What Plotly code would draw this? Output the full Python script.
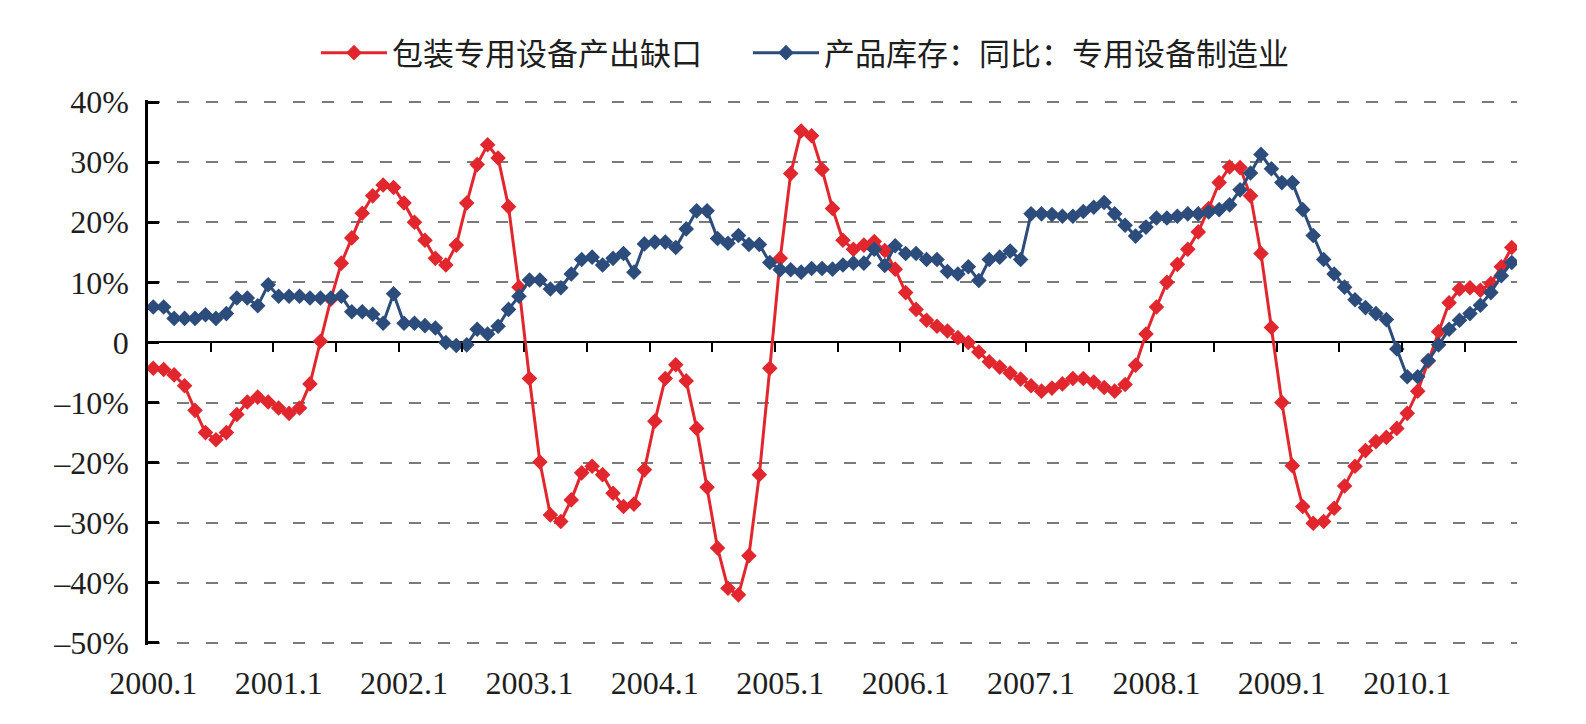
import plotly.graph_objects as go

# ---- data (monthly, 2000.1 - 2010.11) ----
months = [f"{2000 + i // 12}.{i % 12 + 1}" for i in range(131)]

gap_packaging = [
    -4.3, -4.5, -5.4, -7.2, -11.3, -15.0, -16.2, -15.0, -12.0, -9.9, -9.1, -9.9,
    -10.9, -11.8, -10.9, -6.9, 0.2, 7.2, 13.2, 17.4, 21.5, 24.4, 26.2, 25.8,
    23.2, 20.0, 17.0, 14.0, 12.9, 16.2, 23.2, 29.6, 32.9, 30.7, 22.6, 9.2,
    -6.0, -19.9, -28.7, -29.8, -26.2, -21.7, -20.6, -22.0, -25.1, -27.3, -26.9, -21.2,
    -13.1, -6.0, -3.7, -6.4, -14.3, -24.1, -34.2, -40.9, -42.0, -35.5, -22.0, -4.3,
    14.0, 28.1, 35.2, 34.4, 28.8, 22.3, 17.0, 15.5, 16.2, 16.8, 15.3, 12.2,
    8.3, 5.5, 3.7, 2.7, 1.9, 0.8, 0.0, -1.6, -3.2, -4.1, -5.1, -6.1,
    -7.2, -8.1, -7.6, -6.9, -6.0, -6.0, -6.6, -7.5, -8.1, -7.0, -3.8, 1.4,
    5.9, 10.0, 13.0, 15.5, 18.4, 22.3, 26.6, 29.2, 29.1, 24.4, 14.8, 2.5,
    -10.0, -20.5, -27.3, -30.1, -29.8, -27.6, -23.9, -20.6, -18.0, -16.5, -15.8, -14.3,
    -11.8, -8.1, -3.1, 1.8, 6.6, 8.9, 9.1, 8.7, 9.8, 12.6, 15.8,
]

inventory_yoy = [
    5.9, 5.9, 4.0, 4.0, 4.0, 4.6, 4.0, 4.8, 7.4, 7.4, 6.1, 9.6,
    7.7, 7.7, 7.7, 7.4, 7.4, 7.4, 7.7, 5.1, 5.1, 4.7, 3.2, 8.1,
    3.2, 3.2, 2.8, 2.4, 0.0, -0.5, -0.4, 2.2, 1.4, 2.7, 5.5, 7.7,
    10.4, 10.4, 8.9, 9.1, 11.4, 13.8, 14.2, 12.9, 14.0, 14.8, 11.7, 16.4,
    16.7, 16.7, 15.8, 18.9, 21.9, 21.9, 17.3, 16.5, 17.8, 16.3, 16.3, 13.3,
    12.1, 12.1, 11.7, 12.3, 12.3, 12.2, 12.9, 13.2, 13.2, 15.5, 12.8, 16.1,
    14.8, 14.8, 13.8, 13.8, 11.8, 11.4, 12.6, 10.3, 13.8, 14.2, 15.2, 13.8,
    21.4, 21.4, 21.3, 21.0, 21.0, 21.8, 22.5, 23.3, 21.4, 19.5, 17.7, 19.2,
    20.7, 20.7, 21.0, 21.4, 21.4, 21.7, 22.1, 22.9, 25.4, 28.2, 31.3, 28.9,
    26.6, 26.6, 22.1, 17.8, 13.8, 11.4, 9.2, 7.1, 5.8, 4.8, 3.8, -1.1,
    -5.7, -5.7, -3.0, -0.4, 2.2, 3.7, 4.8, 6.2, 8.3, 11.1, 13.3,
]

y_ticks = [40, 30, 20, 10, 0, -10, -20, -30, -40, -50]
y_ticktext = ["40%", "30%", "20%", "10%", "0", "–10%", "–20%", "–30%", "–40%", "–50%"]
x_label_idx = list(range(0, 131, 12))
x_ticktext = [months[i] for i in x_label_idx]
x_tick_marks = [5.5 + 6 * k for k in range(21)]

name_red = "包装专用设备产出缺口"
name_blue = "产品库存：同比：专用设备制造业"

RED = "#E1262E"
BLUE = "#2C4C7C"
SERIF = "Liberation Serif, Times New Roman, serif"
LEGEND_FONT = dict(family="Noto Sans CJK SC", size=31, color="#1e1e1e")

xs = list(range(len(months)))
Y_LO, Y_HI = -50.35, 40.35

fig = go.Figure()
fig.add_trace(go.Scatter(
    x=xs, y=gap_packaging, name=name_red, mode="lines+markers",
    line=dict(color=RED, width=3),
    marker=dict(symbol="diamond", size=12, color=RED),
    legend="legend",
    customdata=months, hovertemplate="%{customdata}: %{y}%<extra></extra>",
))
fig.add_trace(go.Scatter(
    x=xs, y=inventory_yoy, name=name_blue, mode="lines+markers",
    line=dict(color=BLUE, width=3),
    marker=dict(symbol="diamond", size=12, color=BLUE),
    legend="legend2",
    customdata=months, hovertemplate="%{customdata}: %{y}%<extra></extra>",
))
# empty trace to host the tick-mark axis drawn along the zero line
fig.add_trace(go.Scatter(x=[None], y=[None], xaxis="x2", showlegend=False,
                         hoverinfo="skip"))

fig.update_layout(
    width=1586, height=724,
    margin=dict(l=148, r=69, t=100, b=79, autoexpand=False),
    paper_bgcolor="white", plot_bgcolor="white",
    showlegend=True,
    legend=dict(
        orientation="h", xref="container", yref="container",
        x=316 / 1586, y=1 - 53 / 724, xanchor="left", yanchor="middle",
        itemwidth=66, font=LEGEND_FONT, bgcolor="rgba(0,0,0,0)",
    ),
    legend2=dict(
        orientation="h", xref="container", yref="container",
        x=748 / 1586, y=1 - 53 / 724, xanchor="left", yanchor="middle",
        itemwidth=66, font=LEGEND_FONT, bgcolor="rgba(0,0,0,0)",
    ),
    xaxis=dict(
        range=[-0.5, 130.5], tickmode="array", tickvals=x_label_idx,
        ticktext=x_ticktext, showgrid=False, zeroline=False, showline=False,
        ticks="", ticklabelstandoff=16,
        tickfont=dict(family=SERIF, size=32, color="#1e1e1e"),
    ),
    xaxis2=dict(
        overlaying="x", anchor="free", position=(0 - Y_LO) / (Y_HI - Y_LO),
        range=[-0.5, 130.5], tickmode="array", tickvals=x_tick_marks,
        showticklabels=False, ticks="outside", ticklen=9, tickwidth=2,
        tickcolor="black", showgrid=False, zeroline=False, showline=False,
    ),
    yaxis=dict(
        range=[Y_LO, Y_HI], tickmode="array", tickvals=y_ticks, ticktext=y_ticktext,
        showline=True, linecolor="black", linewidth=2.5,
        ticks="inside", ticklen=11, tickwidth=2.5, tickcolor="black",
        showgrid=True, gridcolor="#7a7a7a", gridwidth=2, griddash="12px,17px",
        zeroline=True, zerolinecolor="black", zerolinewidth=2,
        ticklabelstandoff=10,
        tickfont=dict(family=SERIF, size=32, color="#1e1e1e"),
    ),
)

fig.write_html("out.html")
